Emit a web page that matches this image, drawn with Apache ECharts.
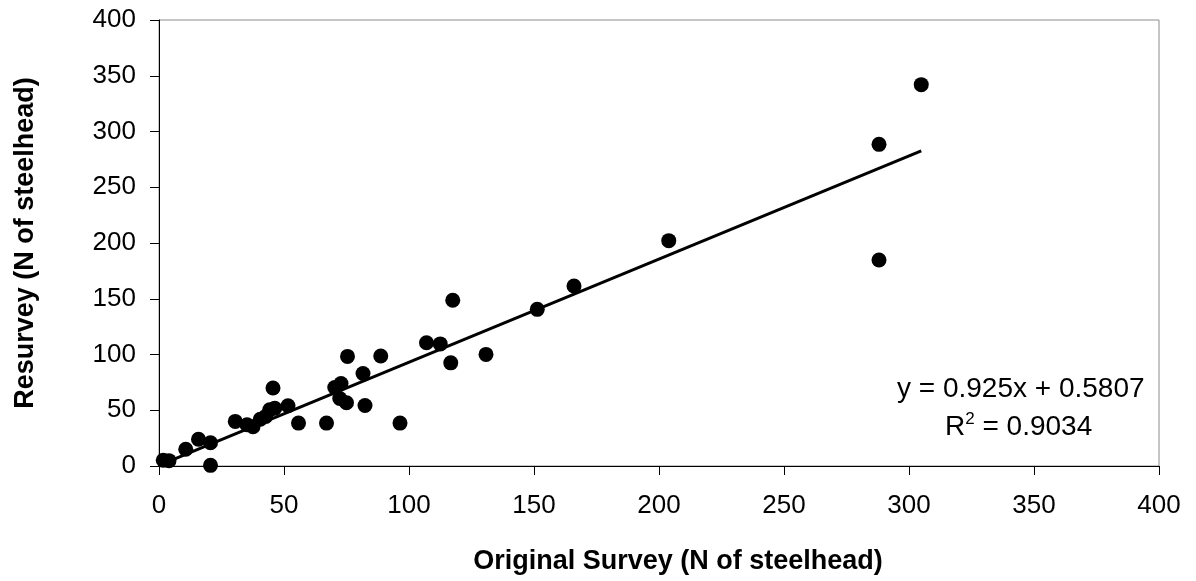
<!DOCTYPE html>
<html>
<head>
<meta charset="utf-8">
<script src="https://cdn.jsdelivr.net/npm/echarts@6/dist/echarts.min.js"></script>
<style>html,body{margin:0;padding:0;background:#fff;}#c{width:1196px;height:581px;}</style>
</head>
<body>
<div id="c"></div>
<script>
// Data
var originalSurvey = [1.7, 4.0, 10.7, 15.8, 20.6, 20.6, 30.5, 35.2, 37.6, 40.5, 42.7, 44.3, 46.3, 45.6, 51.6, 55.8, 67.0, 70.3, 72.8, 72.3, 75.0, 75.4, 81.6, 82.4, 88.7, 96.4, 107.0, 112.5, 116.7, 117.5, 130.8, 151.3, 166.0, 203.9, 288.0, 288.0, 304.9];
var resurvey       = [5.2, 4.8, 15.0, 24.0, 20.8, 0.6, 40.0, 37.0, 35.2, 41.9, 44.5, 50.5, 51.8, 70.0, 54.0, 38.5, 38.5, 70.4, 74.0, 60.5, 56.7, 98.3, 83.0, 54.3, 98.7, 38.5, 110.6, 109.5, 92.5, 148.6, 100.1, 140.5, 161.4, 202.1, 288.5, 184.8, 342.0];
var slope = 0.925, intercept = 0.5807, rSquared = 0.9034;
var axisTicks = [0, 50, 100, 150, 200, 250, 300, 350, 400];
var xTitle = 'Original Survey (N of steelhead)';
var yTitle = 'Resurvey (N of steelhead)';

var points = originalSurvey.map(function (x, i) { return [x, resurvey[i]]; });
var xMin = Math.min.apply(null, originalSurvey), xMax = Math.max.apply(null, originalSurvey);
var trend = [[xMin, slope * xMin + intercept], [xMax, slope * xMax + intercept]];

var font = 'Liberation Sans, Arial, sans-serif';
var chart = echarts.init(document.getElementById('c'));
chart.setOption({
  animation: false,
  backgroundColor: '#fff',
  grid: { left: 159, right: 37, top: 20, bottom: 115, show: true, borderColor: '#8c8c8c', borderWidth: 1 },
  xAxis: {
    type: 'value', min: axisTicks[0], max: axisTicks[axisTicks.length - 1], interval: 50,
    name: xTitle, nameLocation: 'middle', nameGap: 82,
    nameTextStyle: { fontFamily: font, fontSize: 27, fontWeight: 'bold', color: '#000', padding: [0, 0, 0, 38] },
    axisLine: { show: true, lineStyle: { color: '#000', width: 1 } },
    axisTick: { show: true, inside: false, length: 9, lineStyle: { color: '#000' } },
    axisLabel: { margin: 27, fontFamily: font, fontSize: 26, color: '#000' },
    splitLine: { show: false }
  },
  yAxis: {
    type: 'value', min: axisTicks[0], max: axisTicks[axisTicks.length - 1], interval: 50,
    name: yTitle, nameLocation: 'middle', nameGap: 120,
    nameTextStyle: { fontFamily: font, fontSize: 27, fontWeight: 'bold', color: '#000' },
    axisLine: { show: true, lineStyle: { color: '#000', width: 1 } },
    axisTick: { show: true, inside: false, length: 9, lineStyle: { color: '#000' } },
    axisLabel: { margin: 23, fontFamily: font, fontSize: 26, color: '#000' },
    splitLine: { show: false }
  },
  series: [
    {
      type: 'line', data: trend, symbol: 'none', z: 2,
      lineStyle: { color: '#000', width: 3 }
    },
    {
      type: 'scatter', data: points, symbol: 'circle', symbolSize: 15, z: 3,
      itemStyle: { color: '#000', opacity: 1 }
    }
  ],
  graphic: [
    {
      type: 'text', left: 897, top: 375, z: 10,
      style: { text: 'y = ' + slope + 'x + ' + intercept, fontFamily: font, fontSize: 28, fill: '#000' }
    },
    {
      type: 'text', left: 945, top: 411, z: 10,
      style: {
        text: '{a|R}{s|2}{a| = ' + rSquared + '}',
        rich: {
          a: { fontFamily: font, fontSize: 28, fill: '#000', color: '#000', verticalAlign: 'bottom' },
          s: { fontFamily: font, fontSize: 17, fill: '#000', color: '#000', verticalAlign: 'top', padding: [0, 0, 13, 0] }
        }
      }
    }
  ]
});
</script>
</body>
</html>
